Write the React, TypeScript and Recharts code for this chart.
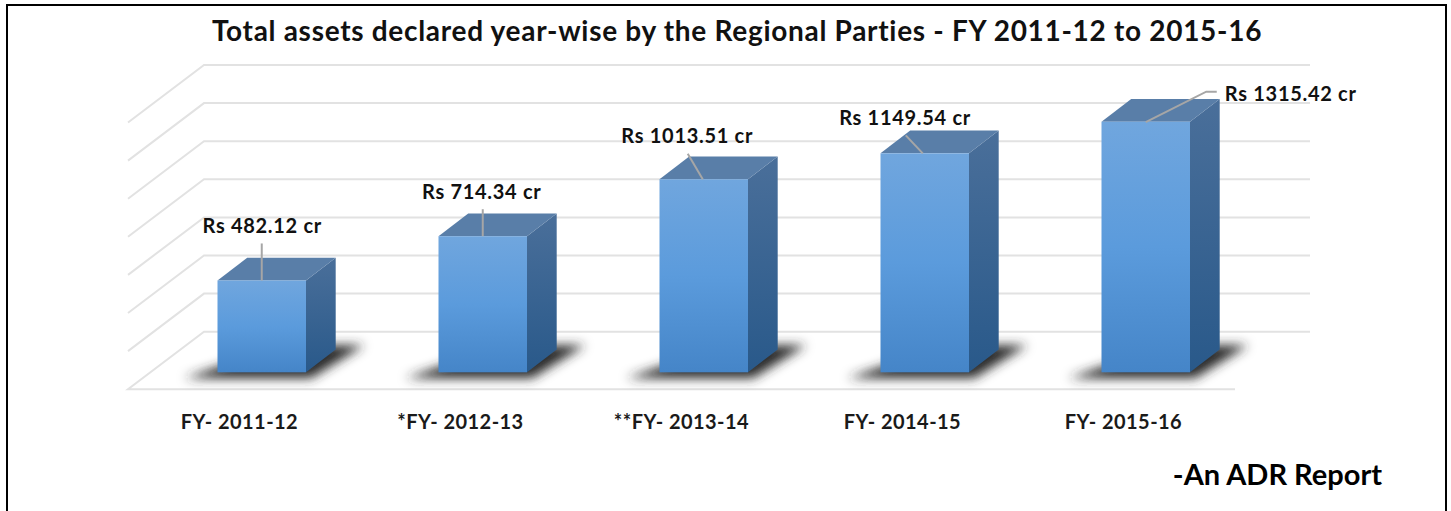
import React from 'react';
import { BarChart, Bar, XAxis, YAxis, CartesianGrid, LabelList } from 'recharts';

const categories = ['FY- 2011-12', '*FY- 2012-13', '**FY- 2013-14', 'FY- 2014-15', 'FY- 2015-16'];
const assets = [482.12, 714.34, 1013.51, 1149.54, 1315.42];
const gridTicks = [0, 200, 400, 600, 800, 1000, 1200, 1400];

const data = categories.map((name, i) => ({ name, assets: assets[i] }));

const FONT = 'Lato, Carlito, sans-serif';

// 3D projection of the plot: bars stand in front of the back wall
const DEPTH_X = 29.7;
const DEPTH_Y = 22.7;
const BASE_Y = 372.3;
const WALL_DY = -40.6;
const WALL_LEFT = 204;
const WALL_RIGHT = 1310;
const FLOOR_LEFT = 128;
const FLOOR_RIGHT = 1235;
const SIDE_DY = 57.5;
const GRID_COLOR = '#e2e2e2';

// label position relative to bar centre and bar top
const labelOffsets = [
  [0.5, -47.5],
  [-1, -37.7],
  [-16.5, -36.3],
  [-19.7, -28.7],
  [145, -21],
];

// leader line points relative to bar centre and bar top
const leaders = [
  [[0, -37], [0, 0]],
  [[0, -27], [0, 0]],
  [[-16, -25.5], [-1, 0]],
  [[-19, -18], [-2, 0]],
  [[0, 0.5], [60.5, -30], [71, -30]],
];

// one wall gridline, with its side-wall diagonal; the zero line also closes the floor
function WallLine({ y1 }: any) {
  const y = y1 + WALL_DY;
  const isFloor = Math.abs(y1 - BASE_Y) < 1;
  const start = isFloor ? `M${FLOOR_RIGHT},${y + SIDE_DY} L` : 'M';
  return (
    <path
      d={`${start}${FLOOR_LEFT},${y + SIDE_DY} L${WALL_LEFT},${y} L${WALL_RIGHT},${y}`}
      fill="none"
      stroke={GRID_COLOR}
      strokeWidth={2}
    />
  );
}

function Bar3D({ x, y, width, height }: any) {
  const r = x + width;
  const b = y + height;
  return (
    <g>
      <polygon
        points={`${x - 33},${b + 6} ${r + 5},${b + 6} ${r + 58},${b - 27} ${r - 24},${b - 27}`}
        fill="#2c2c2c"
        filter="url(#barShadow)"
      />
      <polygon
        points={`${r},${y} ${r + DEPTH_X},${y - DEPTH_Y} ${r + DEPTH_X},${b - DEPTH_Y} ${r},${b}`}
        fill="url(#sideFill)"
      />
      <polygon
        points={`${x},${y} ${x + DEPTH_X},${y - DEPTH_Y} ${r + DEPTH_X},${y - DEPTH_Y} ${r},${y}`}
        fill="#597ea8"
      />
      <rect x={x} y={y} width={width} height={height} fill="url(#frontFill)" />
    </g>
  );
}

function DataLabel({ x, y, width, index, value }: any) {
  const cx = x + width / 2;
  const [dx, dy] = labelOffsets[index];
  const pts = leaders[index].map(([px, py]) => `${cx + px},${y + py}`).join(' ');
  return (
    <g>
      <polyline points={pts} fill="none" stroke="#a6a6a6" strokeWidth={2} />
      <text
        x={cx + dx}
        y={y + dy}
        textAnchor="middle"
        fontFamily={FONT}
        fontWeight={700}
        fontSize={20}
        letterSpacing={0.7}
        fill="#111"
      >
        {`Rs ${Number(value).toFixed(2)} cr`}
      </text>
    </g>
  );
}

function CategoryTick({ x, y, payload }: any) {
  return (
    <text
      x={x - 22.5}
      y={y + 11}
      textAnchor="middle"
      fontFamily={FONT}
      fontWeight={700}
      fontSize={20}
      letterSpacing={0.45}
      fill="#1a1a1a"
    >
      {payload.value}
    </text>
  );
}

export default function App() {
  return (
    <div style={{ position: 'absolute', left: 0, top: 0, width: 1451, height: 511, overflow: 'hidden', background: '#fff' }}>
      <div
        style={{
          position: 'absolute',
          left: 6,
          top: 4,
          width: 1437,
          height: 530,
          border: '2.5px solid #000',
        }}
      />
      <div style={{ position: 'absolute', left: 0, top: 0 }}>
        <BarChart
          width={1451}
          height={511}
          data={data}
          margin={{ top: 105.6, right: 194.5, bottom: 78.7, left: 151.5 }}
          barSize={88.5}
        >
          <defs>
            <linearGradient id="frontFill" x1="0" y1="0" x2="0" y2="1">
              <stop offset="0%" stopColor="#70a6de" />
              <stop offset="50%" stopColor="#5b9bdc" />
              <stop offset="100%" stopColor="#4585c8" />
            </linearGradient>
            <linearGradient id="sideFill" x1="0" y1="0" x2="0" y2="1">
              <stop offset="0%" stopColor="#4a6f9a" />
              <stop offset="100%" stopColor="#29598a" />
            </linearGradient>
            <filter id="barShadow" x="-30%" y="-60%" width="160%" height="220%">
              <feGaussianBlur stdDeviation="5.5" />
            </filter>
          </defs>
          <CartesianGrid
            vertical={false}
            horizontalValues={gridTicks}
            horizontal={(props: any) => <WallLine key={props.key ?? props.index} {...props} />}
          />
          <XAxis
            dataKey="name"
            axisLine={false}
            tickLine={false}
            height={60}
            tick={<CategoryTick />}
            tickMargin={40}
            interval={0}
          />
          <YAxis hide domain={[0, 1400]} />
          <Bar dataKey="assets" isAnimationActive={false} shape={<Bar3D />}>
            <LabelList dataKey="assets" content={<DataLabel />} />
          </Bar>
          <text x={737} y={41} textAnchor="middle" fontFamily={FONT} fontWeight={700} fontSize={28} letterSpacing={0.7} fill="#111">
            Total assets declared year-wise by the Regional Parties - FY 2011-12 to 2015-16
          </text>
          <text x={1382} y={485} textAnchor="end" fontFamily={FONT} fontWeight={700} fontSize={29} fill="#000">
            -An ADR Report
          </text>
        </BarChart>
      </div>
    </div>
  );
}
